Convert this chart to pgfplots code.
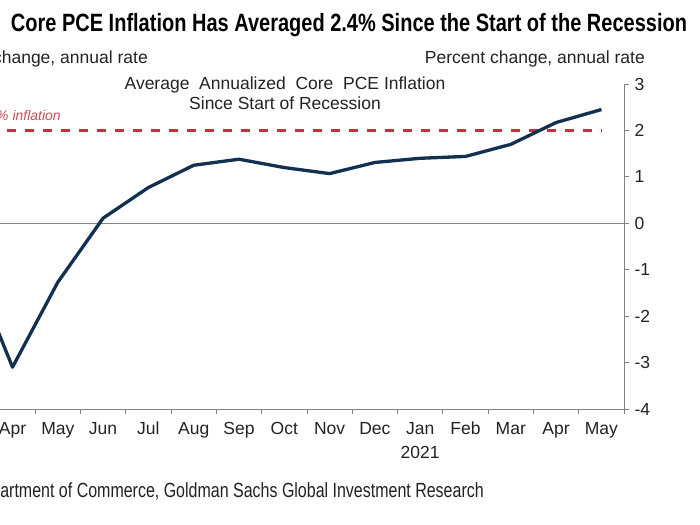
\documentclass[border=0pt]{standalone}
\usepackage{pgfplots}
\pgfplotsset{compat=1.18}
\usepackage{fontspec}
\setmainfont{Liberation Sans}
\newfontfamily\titlefont[FakeStretch=0.80]{Liberation Sans}
\newfontfamily\srcfont[FakeStretch=0.78]{Liberation Sans}
\definecolor{navy}{RGB}{18,48,80}
\definecolor{fedred}{RGB}{192,52,60}
\definecolor{labred}{RGB}{200,80,90}
\definecolor{axgray}{RGB}{130,130,130}
\definecolor{txt}{RGB}{35,35,35}
\newcommand{\lbl}{\fontsize{17.5bp}{21bp}\selectfont}
\begin{document}
\begin{tikzpicture}
\useasboundingbox (0,0) rectangle (700bp,525bp);
\clip (0,0) rectangle (700bp,525bp);
\fill[white] (0,0) rectangle (700bp,525bp);
\begin{axis}[
 scale only axis, width=724.8bp, height=325bp,
 at={(-100.75bp,116bp)}, anchor=south west,
 xmin=-2.5, xmax=13.5, ymin=-4, ymax=3,
 axis x line=bottom, axis y line=right,
 axis line style={-, draw=axgray, line width=0.9bp},
 tick align=outside, major tick length=5bp,
 tick style={axgray, line width=0.8bp},
 xtick={-1.5,-0.5,...,13.5}, xticklabels={},
 extra x ticks={-2,-1,0,1,2,3,4,5,6,7,8,9,10,11,12,13},
 extra x tick labels={Feb,Mar,Apr,May,Jun,Jul,Aug,Sep,Oct,Nov,Dec,Jan,Feb,Mar,Apr,May},
 extra x tick style={major tick length=0pt, tick style={draw=none},
   tick label style={font=\lbl, text=txt, anchor=north, yshift=-9bp, text height=13bp, text depth=4bp}},
 ytick={-4,-3,-2,-1,0,1,2,3},
 yticklabels={-4,-3,-2,-1,0,1,2,3},
 yticklabel style={font=\lbl, text=txt, anchor=west, xshift=2bp},
 clip=false,
]
\addplot[fedred, line width=2.4bp, dash pattern=on 9bp off 9bp] coordinates {(-2.5,2) (13,2)};
\addplot[axgray, line width=0.8bp] coordinates {(-2.5,0) (13.5,0)};
\addplot[navy, line width=3.3bp, line join=round] coordinates {
 (-1,-0.68) (0,-3.10) (1,-1.27) (2,0.11) (3,0.77) (4,1.25) (5,1.38) (6,1.20)
 (7,1.07) (8,1.31) (9,1.40) (10,1.44) (11,1.70) (12,2.17) (13,2.45)};
\node[anchor=base, font=\lbl, text=txt, inner sep=0pt] at (axis cs:9,-4) [yshift=-49bp] {2021};
\end{axis}
\node[anchor=base, font=\titlefont\bfseries\fontsize{25bp}{30bp}\selectfont, text=black, inner sep=0pt]
 at (349bp,493bp) {Core PCE Inflation Has Averaged 2.4\% Since the Start of the Recession};
\node[anchor=base east, font=\lbl, text=txt, inner sep=0pt] at (148bp,461bp) {Percent change, annual rate};
\node[anchor=base east, font=\lbl, text=txt, inner sep=0pt] at (645bp,461bp) {Percent change, annual rate};
\node[anchor=base, font=\lbl, text=txt, inner sep=0pt] at (285bp,435bp) {Average\ \ Annualized\ \ Core\ \ PCE Inflation};
\node[anchor=base, font=\lbl, text=txt, inner sep=0pt] at (285bp,415bp) {Since Start of Recession};
\node[anchor=base east, font=\itshape\fontsize{14bp}{17bp}\selectfont, text=labred, inner sep=0pt] at (61bp,404bp) {2\% inflation};
\node[anchor=base east, font=\srcfont\fontsize{20.5bp}{24bp}\selectfont, text=txt, inner sep=0pt] at (484bp,28bp) {Source: Department of Commerce, Goldman Sachs Global Investment Research};
\end{tikzpicture}
\end{document}
